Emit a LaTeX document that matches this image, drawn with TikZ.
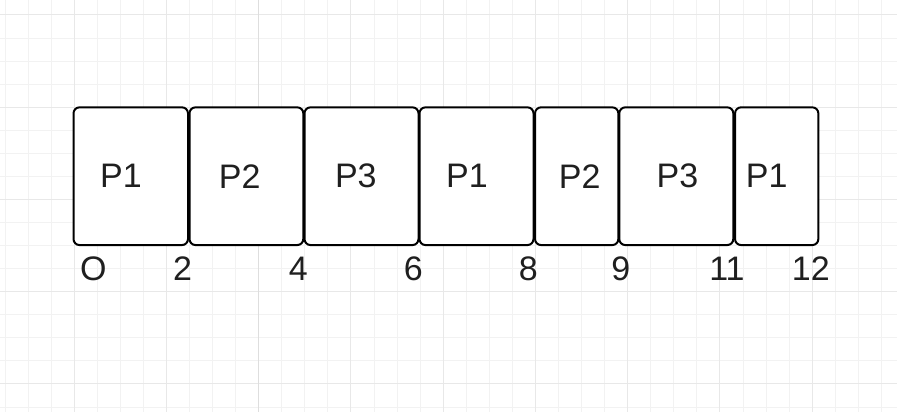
\documentclass[tikz,border=0pt]{standalone}
\usepackage{fontspec}
\setmainfont{Liberation Sans}
\tikzset{
  box/.style={draw=black, line width=2pt, rounded corners=6pt, fill=white, minimum height=137.7pt, inner sep=0pt},
  lab/.style={font=\fontsize{34}{40}\selectfont, text=black!88, inner sep=0pt, anchor=center},
  minorgrid/.style={draw=black!5, line width=1pt},
  midgrid/.style={draw=black!9, line width=1pt},
  majorgrid/.style={draw=black!13, line width=1.2pt}
}
\begin{document}
\begin{tikzpicture}[x=1pt,y=-1pt]
\useasboundingbox (0,0) rectangle (897,412);
\fill[white] (0,0) rectangle (897,412);
% grid
\foreach \k in {0,...,38}{
  \pgfmathsetmacro{\xx}{5+23.0625*\k}
  \draw[minorgrid] (\xx,0) -- (\xx,412);
}
\foreach \j in {-12,...,5}{
  \pgfmathsetmacro{\yy}{291.7+23.0625*\j}
  \draw[minorgrid] (0,\yy) -- (897,\yy);
}
\foreach \k in {3,7,...,35}{
  \pgfmathsetmacro{\xx}{5+23.0625*\k}
  \draw[midgrid] (\xx,0) -- (\xx,412);
}
\foreach \j in {-12,-8,...,4}{
  \pgfmathsetmacro{\yy}{291.7+23.0625*\j}
  \draw[midgrid] (0,\yy) -- (897,\yy);
}
\draw[majorgrid] (258.7,0) -- (258.7,412);
% boxes
\node[box, minimum width=114.5pt] (b1) at (130.75,176.2) {};
\node[box, minimum width=113.8pt] (b2) at (246.4,176.2) {};
\node[box, minimum width=114pt] (b3) at (361.5,176.2) {};
\node[box, minimum width=114pt] (b4) at (476.5,176.2) {};
\node[box, minimum width=83.3pt] (b5) at (576.7,176.2) {};
\node[box, minimum width=114pt] (b6) at (676.3,176.2) {};
\node[box, minimum width=83.3pt] (b7) at (776.7,176.2) {};
% box texts
\node[lab] (t1) at (121,176.2) {P1};
\node[lab] (t2) at (239.7,176.2) {P2};
\node[lab] (t3) at (355.8,176.2) {P3};
\node[lab] (t4) at (467,176.2) {P1};
\node[lab] (t5) at (579.7,176.2) {P2};
\node[lab] (t6) at (677.5,176.2) {P3};
\node[lab] (t7) at (766.7,176.2) {P1};
% axis labels
\node[lab] (l0) at (93.3,269) {O};
\node[lab] (l2) at (182.5,269) {2};
\node[lab] (l4) at (298.3,269) {4};
\node[lab] (l6) at (413.3,269) {6};
\node[lab] (l8) at (528.3,269) {8};
\node[lab] (l9) at (620.7,269) {9};
\node[lab] (l11) at (727,269) {11};
\node[lab] (l12) at (810.8,269) {12};
\end{tikzpicture}
\end{document}
